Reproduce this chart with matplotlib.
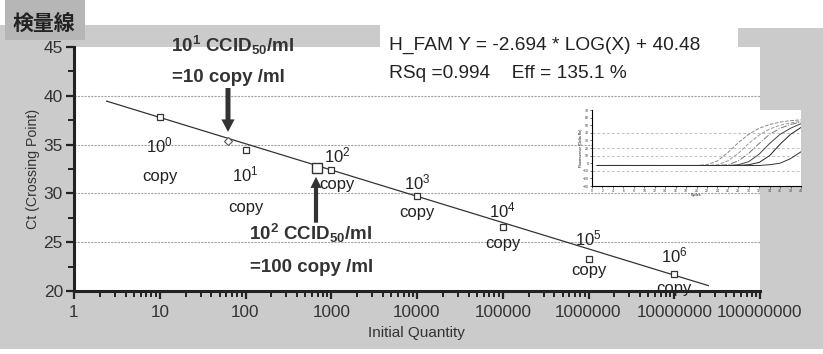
import matplotlib
matplotlib.use('Agg')
import matplotlib.pyplot as plt
import numpy as np
from matplotlib.patches import Rectangle
from matplotlib.ticker import FixedLocator, FuncFormatter, LogLocator, NullFormatter, MultipleLocator

plt.rcParams['font.family'] = ['Liberation Sans', 'Noto Sans CJK JP', 'DejaVu Sans']
plt.rcParams['mathtext.fontset'] = 'custom'
plt.rcParams['mathtext.rm'] = 'Liberation Sans'
plt.rcParams['mathtext.it'] = 'Liberation Sans'
plt.rcParams['mathtext.bf'] = 'Liberation Sans:bold'

# standard curve points (Initial Quantity, Ct)
qty = [10, 100, 1000, 10000, 100000, 1000000, 10000000]
ct = [37.8, 34.45, 32.4, 29.7, 26.55, 23.3, 21.7]
# unknown samples
unk_qty = [62.5, 680]
unk_ct = [35.4, 32.6]
# regression shown in the chart
slope = -2.694
intercept = 40.48
line_x = [2.4, 2.5e7]

pt_labels = ['$10^0$', '$10^1$', '$10^2$', '$10^3$', '$10^4$', '$10^5$', '$10^6$']
lab_x = [10, 100, 1170, 10000, 100000, 1000000, 10000000]
lab_y = [34.9, 31.9, 33.9, 31.1, 28.3, 25.4, 23.6]
copy_y = [31.7, 28.6, 30.9, 28.0, 24.9, 22.15, 20.3]

grid_y = [25, 30, 35, 40]
x_ticks = [1, 10, 100, 1000, 10000, 100000, 1000000, 10000000, 100000000]

# inset amplification curves (cycle, fluorescence), read by eye
cycles = [1, 20, 22, 24, 26, 28, 30, 32, 34, 36, 38, 40]
amp = [
    [-3, -3, -2, 3, 14, 27, 38, 46, 51, 54, 56, 57],
    [-3, -3, -3, -2, 3, 13, 26, 37, 45, 50, 53, 55],
    [-3, -3, -3, -3, -2, 3, 13, 26, 38, 46, 51, 54],
    [-3, -3, -3, -3, -3, -2, 2, 12, 26, 38, 46, 52],
    [-3, -3, -3, -3, -3, -3, -2, 1, 10, 25, 38, 47],
    [-3, -3, -3, -3, -3, -3, -3, -3, -2, 0, 6, 15],
]
amp_styles = [('#888888', '--'), ('#999999', '--'), ('#777777', '-.'),
              ('#444444', '-'), ('#222222', '-'), ('#333333', '-')]
inset_grid = [40, 20, 10, -10]

W, H = 823, 354


def fx(px):
    return px / W


def fy(py):
    return 1 - py / H


def frect(x0, y0, x1, y1, color, z=-2):
    fig.patches.append(Rectangle((fx(x0), fy(y1)), (x1 - x0) / W, (y1 - y0) / H,
                                 transform=fig.transFigure, facecolor=color,
                                 edgecolor='none', zorder=z))


fig = plt.figure(figsize=(8.23, 3.54), dpi=100, facecolor='white')

gray = '#cbcbcb'
frect(0, 25, 380, 47, gray)
frect(0, 25, 74, 349, gray)
frect(0, 291, 823, 349, gray)
frect(760, 55, 823, 349, gray)
frect(738, 28, 823, 55, gray)
frect(567, 100, 803, 202, gray)
frect(5, 0, 85, 40, '#b6b6b6', z=-1)
fig.text(fx(44), fy(23), '検量線', family=['Noto Sans CJK JP'], fontsize=15,
         fontweight='bold', color='#222222', ha='center', va='center')

ax = fig.add_axes([fx(74), fy(291), 686 / W, 244 / H])
ax.set_facecolor('white')
ax.set_xscale('log')
ax.set_xlim(1, 1e8)
ax.set_ylim(20, 45)

for g in grid_y:
    ax.axhline(g, color='#a5a5a5', lw=0.8, ls=(0, (2, 1)), zorder=1)

lx = np.array(line_x)
ax.plot(lx, slope * np.log10(lx) + intercept, color='#333333', lw=0.9, zorder=3)
ax.plot(qty, ct, ls='none', marker='s', ms=5, mfc='white', mec='#333333', mew=0.9, zorder=4)
ax.plot(unk_qty[0], unk_ct[0], ls='none', marker='D', ms=4.5, mfc='white', mec='#555555', mew=0.8, zorder=4)
ax.plot(unk_qty[1], unk_ct[1], ls='none', marker='s', ms=7, mfc='white', mec='#333333', mew=1.0, zorder=4)

for t, x, y, cy in zip(pt_labels, lab_x, lab_y, copy_y):
    ax.text(x, y, t, fontsize=12, ha='center', va='center', color='#222222')
    ax.text(x, cy, 'copy', fontsize=12, ha='center', va='center', color='#222222')

ax.annotate('', xy=(62.5, 36.3), xytext=(62.5, 40.8),
            arrowprops=dict(facecolor='#333333', edgecolor='none', width=3.6,
                            headwidth=9.5, headlength=9, shrink=0))
ax.annotate('', xy=(664, 31.7), xytext=(664, 27.0),
            arrowprops=dict(facecolor='#333333', edgecolor='none', width=3,
                            headwidth=8, headlength=8, shrink=0))

for s in ['top', 'right']:
    ax.spines[s].set_visible(False)
for s in ['left', 'bottom']:
    ax.spines[s].set_linewidth(2.2)
    ax.spines[s].set_color('#222222')

ax.yaxis.set_major_locator(MultipleLocator(5))
ax.yaxis.set_minor_locator(MultipleLocator(2.5))
ax.xaxis.set_major_locator(FixedLocator(x_ticks))
ax.xaxis.set_minor_locator(LogLocator(base=10, subs=np.arange(2, 10)))
ax.xaxis.set_major_formatter(FuncFormatter(lambda v, p: str(int(round(v)))))
ax.xaxis.set_minor_formatter(NullFormatter())
ax.tick_params(axis='both', which='major', direction='out', length=6, width=1.6,
               color='#222222', labelcolor='#333333')
ax.tick_params(axis='both', which='minor', direction='out', length=4, width=1.4,
               color='#222222')
ax.tick_params(axis='y', labelsize=12.5, pad=2)
ax.tick_params(axis='x', labelsize=12.3, pad=4)

fig.text(fx(33), fy(169), 'Ct (Crossing Point)', rotation=90, fontsize=10.2,
         ha='center', va='center', color='#333333')
fig.text(fx(416), fy(333), 'Initial Quantity', fontsize=11, ha='center',
         va='center', color='#333333')

fig.text(fx(389), fy(45), 'H_FAM Y = -2.694 * LOG(X) + 40.48', fontsize=13.8,
         ha='left', va='center', color='#222222')
fig.text(fx(389), fy(73), 'RSq =0.994    Eff = 135.1 %', fontsize=13.8,
         ha='left', va='center', color='#222222')

fig.text(fx(232), fy(45), r'$\mathbf{10^1\ CCID_{50}/ml}$', fontsize=13.5,
         ha='center', va='center', color='#333333')
fig.text(fx(228), fy(77), '=10 copy /ml', fontsize=13.5, fontweight='bold',
         ha='center', va='center', color='#333333')
fig.text(fx(310), fy(233), r'$\mathbf{10^2\ CCID_{50}/ml}$', fontsize=13.5,
         ha='center', va='center', color='#333333')
fig.text(fx(312), fy(267), '=100 copy /ml', fontsize=13.5, fontweight='bold',
         ha='center', va='center', color='#333333')

# inset with amplification plot
ins = fig.add_axes([fx(592), fy(186), 209 / W, 76 / H])
ins.set_facecolor('white')
for g in inset_grid:
    ins.axhline(g, color='#aaaaaa', lw=0.5, ls=(0, (4, 3)))
for vals, (c, ls) in zip(amp, amp_styles):
    ins.plot(cycles, vals, color=c, ls=ls, lw=0.7)
ins.set_xlim(0, 40)
ins.set_ylim(-30, 70)
ins.set_xticks(np.arange(0, 41, 2))
ins.set_yticks(np.arange(-30, 71, 10))
ins.tick_params(labelsize=2.5, length=1.5, width=0.5, pad=0.5, color='#333333',
                labelcolor='#333333')
for s in ['top', 'right']:
    ins.spines[s].set_visible(False)
for s in ['left', 'bottom']:
    ins.spines[s].set_linewidth(0.8)
ins.set_xlabel('Cycles', fontsize=2.5, labelpad=0.5)
ins.set_ylabel('Fluorescence (Delta Rn)', fontsize=2.5, labelpad=0.5)

fig.savefig('out.png', dpi=100, facecolor=fig.get_facecolor())
